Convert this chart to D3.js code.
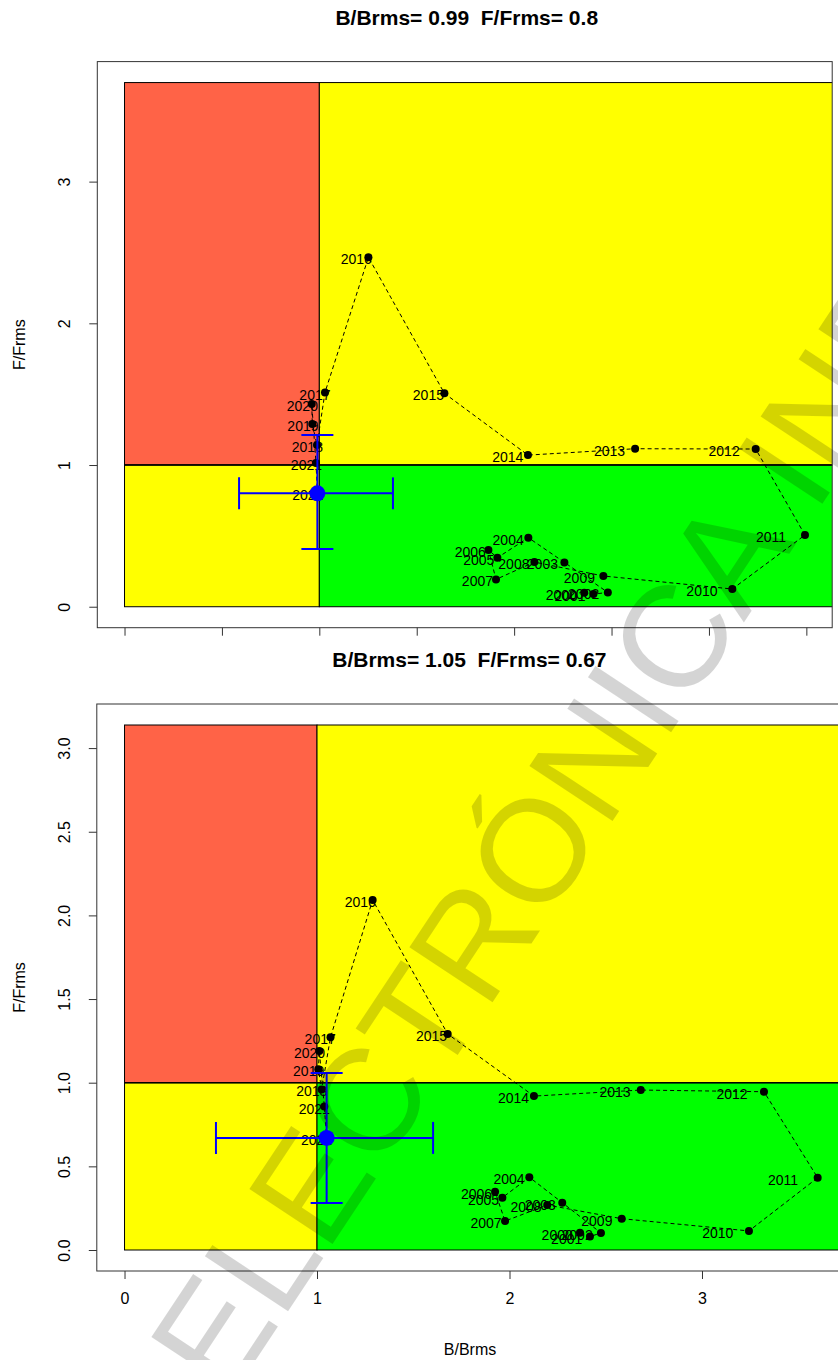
<!DOCTYPE html>
<html>
<head>
<meta charset="utf-8">
<script src="https://cdn.jsdelivr.net/npm/d3@7"></script>
<style>
  html, body { margin: 0; padding: 0; background: #fff; }
  svg { display: block; }
  text { font-family: "Liberation Sans", Arial, sans-serif; }
  .title { white-space: pre; }
</style>
</head>
<body>
<svg id="chart" width="838" height="1360"></svg>
<script>
// Years of the stock trajectory
const years = ["2000","2001","2002","2003","2004","2005","2006","2007","2008","2009","2010",
               "2011","2012","2013","2014","2015","2016","2017","2018","2019","2020","2021","2022"];

// Assessment 1: relative biomass and fishing mortality
const bRatioA = [2.360, 2.407, 2.481, 2.258, 2.073, 1.914, 1.868, 1.907, 2.104, 2.458, 3.120,
                 3.493, 3.240, 2.621, 2.071, 1.642, 1.252, 1.029, 0.988, 0.964, 0.961, 0.983, 0.99];
const fRatioA = [0.099, 0.089, 0.101, 0.313, 0.487, 0.346, 0.400, 0.193, 0.315, 0.217, 0.125,
                 0.506, 1.113, 1.115, 1.070, 1.506, 2.466, 1.512, 1.141, 1.289, 1.430, 1.014, 0.80];
// Uncertainty of the last year (lower, upper)
const bIntervalA = [0.588, 1.378];
const fIntervalA = [0.407, 1.212];

// Assessment 2
const bRatioB = [2.366, 2.418, 2.475, 2.274, 2.103, 1.963, 1.925, 1.977, 2.196, 2.583, 3.244,
                 3.601, 3.322, 2.682, 2.127, 1.679, 1.289, 1.070, 1.024, 1.007, 1.012, 1.038, 1.05];
const fRatioB = [0.103, 0.080, 0.102, 0.283, 0.435, 0.313, 0.348, 0.173, 0.269, 0.187, 0.114,
                 0.432, 0.946, 0.956, 0.920, 1.291, 2.092, 1.271, 0.960, 1.080, 1.190, 0.857, 0.67];
const bIntervalB = [0.475, 1.603];
const fIntervalB = [0.281, 1.058];

// Tick values
const xTicksA = [0, 0.5, 1, 1.5, 2, 2.5, 3, 3.5];
const yTicksA = [0, 1, 2, 3];
const xTicksB = [0, 1, 2, 3];
const yTicksB = [0, 0.5, 1, 1.5, 2, 2.5, 3];

// Year labels sit slightly to the left of their points (scaled along B)
const labelShift = 0.95;

const svg = d3.select("#chart");

const panels = [
  { id: "a", B: bRatioA, F: fRatioA, bInt: bIntervalA, fInt: fIntervalA,
    box: { left: 97.3, right: 832.2, top: 61.6, bottom: 627.7 }, titleY: 25,
    xTicks: xTicksA, yTicks: yTicksA, xLabels: false, yFmt: d3.format("d") },
  { id: "b", B: bRatioB, F: fRatioB, bInt: bIntervalB, fInt: fIntervalB,
    box: { left: 96.8, right: 845.4, top: 704, bottom: 1271 }, titleY: 667,
    xTicks: xTicksB, yTicks: yTicksB, xLabels: true, yFmt: d3.format(".1f") }
];

panels.forEach(p => drawPanel(p));

function drawPanel(p) {
  const n = p.B.length;
  const last = n - 1;
  const xMax = d3.max(p.B);
  const yMax = d3.max(p.F) * 1.5;
  const padX = xMax * 0.04, padY = yMax * 0.04;

  const x = d3.scaleLinear().domain([-padX, xMax + padX]).range([p.box.left, p.box.right]);
  const y = d3.scaleLinear().domain([-padY, yMax + padY]).range([p.box.bottom, p.box.top]);

  const g = svg.append("g");

  const clipId = "clip-" + p.id;
  g.append("clipPath").attr("id", clipId).append("rect")
    .attr("x", p.box.left).attr("y", p.box.top)
    .attr("width", p.box.right - p.box.left).attr("height", p.box.bottom - p.box.top);

  const plot = g.append("g").attr("clip-path", `url(#${clipId})`);

  // Reference-point quadrants
  const far = xMax * 3;
  const zones = [
    { b0: 0, b1: 1,   f0: 1, f1: yMax, fill: "#FF6347" },
    { b0: 1, b1: far, f0: 1, f1: yMax, fill: "#FFFF00" },
    { b0: 0, b1: 1,   f0: 0, f1: 1,    fill: "#FFFF00" },
    { b0: 1, b1: far, f0: 0, f1: 1,    fill: "#00FF00" }
  ];
  plot.selectAll("rect.zone").data(zones).join("rect")
    .attr("class", "zone")
    .attr("x", d => x(d.b0)).attr("y", d => y(d.f1))
    .attr("width", d => x(d.b1) - x(d.b0)).attr("height", d => y(d.f0) - y(d.f1))
    .attr("fill", d => d.fill).attr("stroke", "#000").attr("stroke-width", 1);
  plot.append("line")
    .attr("x1", x(0)).attr("x2", x(far)).attr("y1", y(1)).attr("y2", y(1))
    .attr("stroke", "#000").attr("stroke-width", 1.5);

  const pts = p.B.map((b, i) => ({ b, f: p.F[i], year: years[i] }));

  // Year labels
  plot.selectAll("text.yr").data(pts).join("text")
    .attr("class", "yr")
    .attr("x", d => x(d.b * labelShift)).attr("y", d => y(d.f) + 2)
    .attr("dy", "0.36em").attr("text-anchor", "middle")
    .attr("font-size", 14).attr("fill", "#000")
    .text(d => d.year);

  // Trajectory
  const line = d3.line().x(d => x(d.b)).y(d => y(d.f));
  plot.append("path").datum(pts)
    .attr("d", line).attr("fill", "none")
    .attr("stroke", "#000").attr("stroke-width", 1).attr("stroke-dasharray", "4,3");

  plot.selectAll("circle.yr").data(pts.slice(0, last)).join("circle")
    .attr("class", "yr")
    .attr("cx", d => x(d.b)).attr("cy", d => y(d.f)).attr("r", 4)
    .attr("fill", "#000");

  // Last year with its uncertainty
  const cur = pts[last];
  const cap = 16;
  const eb = plot.append("g").attr("stroke", "#0000FF").attr("stroke-width", 2);
  eb.append("line").attr("x1", x(p.bInt[0])).attr("x2", x(p.bInt[1]))
    .attr("y1", y(cur.f)).attr("y2", y(cur.f));
  eb.append("line").attr("x1", x(cur.b)).attr("x2", x(cur.b))
    .attr("y1", y(p.fInt[0])).attr("y2", y(p.fInt[1]));
  [p.bInt[0], p.bInt[1]].forEach(v => eb.append("line")
    .attr("x1", x(v)).attr("x2", x(v)).attr("y1", y(cur.f) - cap).attr("y2", y(cur.f) + cap));
  [p.fInt[0], p.fInt[1]].forEach(v => eb.append("line")
    .attr("x1", x(cur.b) - cap).attr("x2", x(cur.b) + cap).attr("y1", y(v)).attr("y2", y(v)));
  plot.append("circle").attr("cx", x(cur.b)).attr("cy", y(cur.f)).attr("r", 8).attr("fill", "#0000FF");

  // Frame
  g.append("rect")
    .attr("x", p.box.left).attr("y", p.box.top)
    .attr("width", p.box.right - p.box.left).attr("height", p.box.bottom - p.box.top)
    .attr("fill", "none").attr("stroke", "#333").attr("stroke-width", 1);

  // Axes
  const xAxis = d3.axisBottom(x).tickValues(p.xTicks).tickSize(8).tickPadding(14)
    .tickFormat(p.xLabels ? d3.format("d") : () => "");
  const gx = g.append("g").attr("transform", `translate(0,${p.box.bottom})`).call(xAxis);
  gx.select(".domain").remove();
  gx.selectAll("line").attr("stroke", "#333");
  gx.selectAll("text").attr("font-size", 16).attr("font-family", "Liberation Sans, Arial, sans-serif").attr("fill", "#000");

  const yAxis = d3.axisLeft(y).tickValues(p.yTicks).tickSize(8).tickFormat(p.yFmt);
  const gy = g.append("g").attr("transform", `translate(${p.box.left},0)`).call(yAxis);
  gy.select(".domain").remove();
  gy.selectAll("line").attr("stroke", "#333");
  gy.selectAll("text")
    .attr("font-size", 16).attr("font-family", "Liberation Sans, Arial, sans-serif").attr("fill", "#000")
    .attr("text-anchor", "middle").attr("dy", null).attr("x", null)
    .attr("transform", `translate(-32,0) rotate(-90)`)
    .attr("y", 5);

  g.append("text")
    .attr("transform", `translate(25,${(p.box.top + p.box.bottom) / 2}) rotate(-90)`)
    .attr("text-anchor", "middle").attr("font-size", 16).text("F/Frms");

  // Title with the last-year values
  g.append("text").attr("class", "title")
    .attr("x", (p.box.left + Math.min(p.box.right, 838)) / 2 + 2).attr("y", p.titleY)
    .attr("text-anchor", "middle").attr("font-size", 21).attr("font-weight", "bold")
    .text(`B/Brms= ${cur.b}  F/Frms= ${cur.f}`);
}

svg.append("text")
  .attr("x", 470).attr("y", 1355).attr("text-anchor", "middle").attr("font-size", 16)
  .text("B/Brms");

// Watermark across the page
svg.append("text")
  .attr("transform", "translate(228,1402) rotate(-56.5)")
  .attr("font-family", "Liberation Serif, Times New Roman, serif")
  .attr("font-size", 145).attr("fill", "#000").attr("fill-opacity", 0.17)
  .text("ELECTRÓNICA INDIVIDUAL");
</script>
</body>
</html>
